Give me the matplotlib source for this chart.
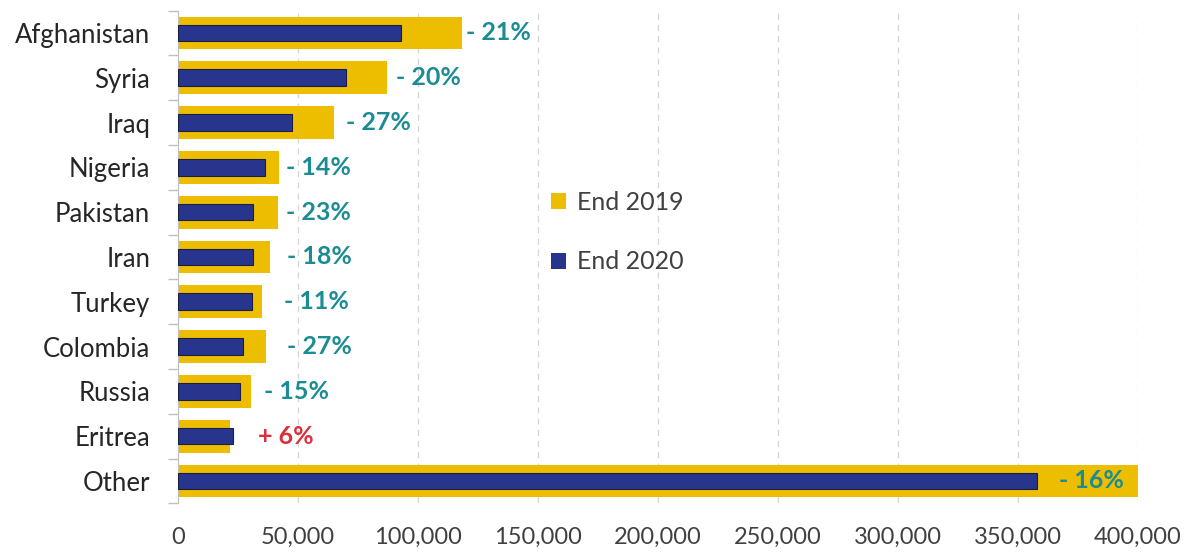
import matplotlib.pyplot as plt
import numpy as np
from matplotlib.patches import Patch
from matplotlib.ticker import FixedLocator

plt.rcParams["font.family"] = ["Lato", "DejaVu Sans"]

countries = ["Afghanistan", "Syria", "Iraq", "Nigeria", "Pakistan", "Iran",
             "Turkey", "Colombia", "Russia", "Eritrea", "Other"]
end_2019 = [118500, 87000, 65000, 42000, 41500, 38300, 34800, 36800, 30600, 21700, 426000]
end_2020 = [93000, 69800, 47500, 36300, 31400, 31300, 30700, 26900, 26000, 22900, 358000]
change_labels = ["- 21%", "- 20%", "- 27%", "- 14%", "- 23%", "- 18%",
                 "- 11%", "- 27%", "- 15%", "+ 6%", "- 16%"]
x_ticks = [0, 50000, 100000, 150000, 200000, 250000, 300000, 350000, 400000]

YELLOW = "#EDBE00"
NAVY = "#28358C"
TEAL = "#1B8C93"
RED = "#DC2F3C"
GREY_TEXT = "#404040"

fig = plt.figure(figsize=(11.89, 5.55), dpi=100)
ax = fig.add_axes([0.1497, 0.093, 0.8074, 0.888])

y = np.arange(len(countries))
ax.barh(y, end_2019, height=0.73, color=YELLOW, zorder=2)
ax.barh(y, end_2020, height=0.37, color=NAVY, edgecolor="#1c1f45",
        linewidth=0.8, zorder=3)

# data label start positions (layout only)
label_x = [120000, 91000, 69900, 45000, 45000, 45500, 44300, 45500, 36000, 33500, 367000]
for i, txt in enumerate(change_labels):
    col = RED if txt.startswith("+") else TEAL
    ax.text(label_x[i], y[i], txt, color=col, fontsize=18, fontweight="bold",
            va="center", ha="left", zorder=4)

ax.set_xlim(0, 400000)
ax.set_ylim(len(countries) - 0.5, -0.5)
ax.set_xticks(x_ticks)
ax.set_xticklabels([f"{v:,}" for v in x_ticks])
ax.set_yticks(y)
ax.set_yticklabels(countries)
ax.yaxis.set_minor_locator(FixedLocator(np.arange(-0.5, len(countries), 1)))

ax.tick_params(axis="x", length=0, pad=17, labelsize=17, labelcolor=GREY_TEXT)
ax.tick_params(axis="y", which="major", length=0, pad=20, labelsize=18.5, labelcolor="#262626")
ax.tick_params(axis="y", which="minor", length=7, color="#bfbfbf", width=1)

ax.grid(axis="x", color="#d6d6d6", linestyle=(0, (5, 4)), linewidth=0.9, zorder=0)
ax.set_axisbelow(True)
for s in ["top", "right", "bottom"]:
    ax.spines[s].set_visible(False)
ax.spines["left"].set_color("#bfbfbf")

handles = [Patch(facecolor=YELLOW, label="End 2019"),
           Patch(facecolor=NAVY, label="End 2020")]
ax.legend(handles=handles, loc="center left", bbox_to_anchor=(0.365, 0.55),
          frameon=False, fontsize=18, handlelength=0.6, handleheight=0.6,
          handletextpad=0.45, labelspacing=1.45, labelcolor=GREY_TEXT)

fig.savefig("out.png", dpi=100, facecolor="white")
